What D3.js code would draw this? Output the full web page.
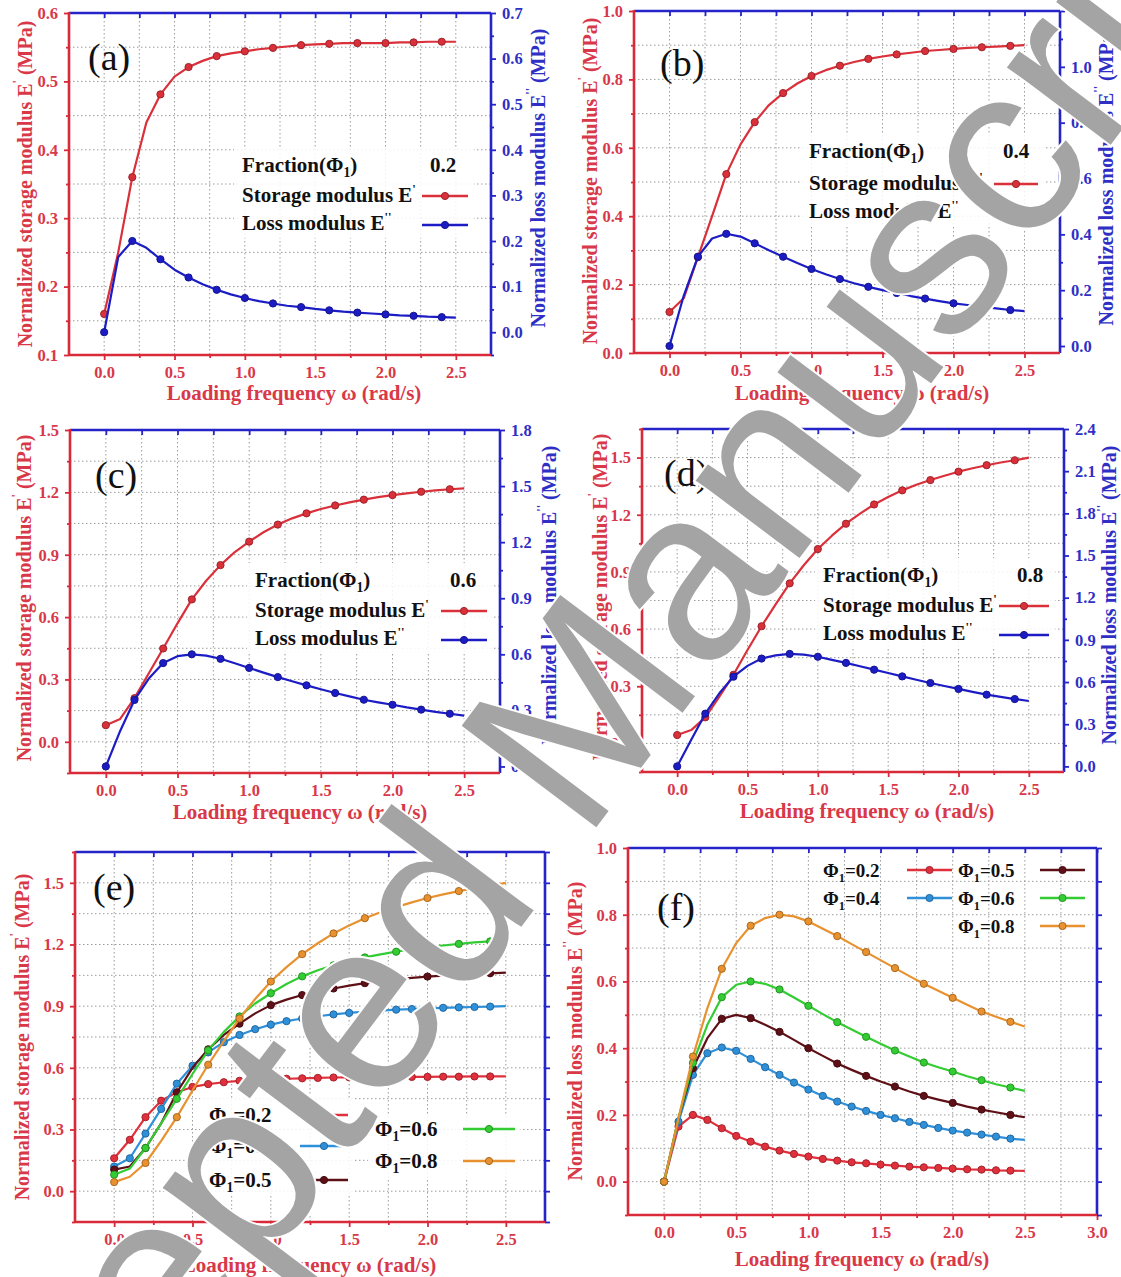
<!DOCTYPE html>
<html><head><meta charset="utf-8">
<script src="https://cdn.jsdelivr.net/npm/d3@7"></script>
<style>body{margin:0;background:#fff} svg{display:block}</style>
</head><body>
<svg id="chart" width="1121" height="1277"></svg>
<script>
// ---------- data ----------
const omega = [0.0,0.1,0.2,0.3,0.4,0.5,0.6,0.7,0.8,0.9,1.0,1.1,1.2,1.3,1.4,1.5,1.6,1.7,1.8,1.9,2.0,2.1,2.2,2.3,2.4,2.5];
const storage02 = [0.16,0.25,0.36,0.44,0.481,0.507,0.521,0.53,0.537,0.541,0.544,0.547,0.549,0.551,0.553,0.554,0.555,0.556,0.556,0.556,0.556,0.557,0.557,0.558,0.558,0.558];
const storage04 = [0.12,0.16,0.28,0.40,0.523,0.61,0.675,0.725,0.76,0.788,0.81,0.827,0.84,0.851,0.86,0.867,0.873,0.878,0.883,0.886,0.889,0.892,0.894,0.896,0.898,0.9];
const storage05 = [0.105,0.12,0.21,0.33,0.48,0.6,0.69,0.76,0.815,0.865,0.905,0.932,0.954,0.972,0.986,1.0,1.012,1.022,1.03,1.038,1.044,1.049,1.053,1.057,1.06,1.063];
const storage06 = [0.08,0.11,0.21,0.33,0.449,0.57,0.685,0.775,0.85,0.913,0.963,1.008,1.045,1.075,1.099,1.12,1.137,1.152,1.165,1.177,1.187,1.195,1.203,1.21,1.215,1.219];
const storage08 = [0.044,0.07,0.137,0.245,0.36,0.49,0.615,0.73,0.84,0.935,1.02,1.09,1.153,1.206,1.254,1.293,1.328,1.357,1.382,1.405,1.426,1.444,1.46,1.474,1.486,1.5];
const loss02 = [0,0.165,0.2,0.185,0.16,0.137,0.12,0.105,0.093,0.083,0.075,0.068,0.063,0.058,0.055,0.051,0.048,0.045,0.043,0.041,0.039,0.037,0.036,0.034,0.033,0.032];
const loss04 = [0,0.18,0.32,0.385,0.402,0.392,0.368,0.343,0.32,0.297,0.276,0.257,0.24,0.225,0.212,0.2,0.19,0.179,0.17,0.161,0.153,0.147,0.141,0.135,0.129,0.125];
const loss05 = [0,0.19,0.34,0.43,0.488,0.5,0.49,0.47,0.449,0.425,0.4,0.377,0.354,0.335,0.317,0.3,0.285,0.27,0.257,0.246,0.236,0.225,0.216,0.208,0.2,0.193];
const loss06 = [0,0.19,0.356,0.47,0.553,0.59,0.6,0.593,0.576,0.552,0.527,0.502,0.478,0.456,0.434,0.413,0.393,0.375,0.357,0.343,0.33,0.316,0.304,0.292,0.282,0.272];
const loss08 = [0,0.19,0.375,0.52,0.638,0.715,0.767,0.79,0.8,0.795,0.78,0.758,0.736,0.712,0.688,0.664,0.64,0.616,0.593,0.572,0.551,0.53,0.51,0.494,0.479,0.465];
const fractions = ["0.2","0.4","0.5","0.6","0.8"];
const panelLetters = ["(a)","(b)","(c)","(d)","(e)","(f)"];
const xTicks = [0.0,0.5,1.0,1.5,2.0,2.5];
const xTicksF = [0.0,0.5,1.0,1.5,2.0,2.5,3.0];
const ticksA_L = [0.1,0.2,0.3,0.4,0.5,0.6], ticksA_R = [0.0,0.1,0.2,0.3,0.4,0.5,0.6,0.7];
const ticksB_L = [0.0,0.2,0.4,0.6,0.8,1.0], ticksB_R = [0.0,0.2,0.4,0.6,0.8,1.0,1.2];
const ticksC_L = [0.0,0.3,0.6,0.9,1.2,1.5], ticksC_R = [0.0,0.3,0.6,0.9,1.2,1.5,1.8];
const ticksD_L = [0.0,0.3,0.6,0.9,1.2,1.5], ticksD_R = [0.0,0.3,0.6,0.9,1.2,1.5,1.8,2.1,2.4];
const ticksE_L = [0.0,0.3,0.6,0.9,1.2,1.5];
const ticksF_L = [0.0,0.2,0.4,0.6,0.8,1.0];
const xTitle = "Loading frequency \u03c9 (rad/s)";
const storageTitle = "Normalized storage modulus E";
const lossTitle = "Normalized loss modulus E";
const watermark = "Accepted Manuscript";

// ---------- style ----------
const SERIF = "'Liberation Serif','Times New Roman',serif";
const RED = "#d92a3a", RED_T = "#d83848";
const BLUE = "#2424c8", BLUE_T = "#2f2fc6";
const C_ST = "#d9303a", C_LO = "#1c1cc4";
const PHI_COL = {"0.2":"#e0303c","0.4":"#2f90da","0.5":"#5e1016","0.6":"#33cc33","0.8":"#e8912e"};
const svg = d3.select("#chart");

function steps(dom, step){
  const lo = Math.ceil(dom[0]/step - 1e-6), hi = Math.floor(dom[1]/step + 1e-6);
  return d3.range(lo, hi+1).map(k => +(k*step).toFixed(4));
}
function addText(g, x, y, parts, opt){
  const t = g.append("text").attr("x", x).attr("y", y)
    .attr("font-family", SERIF).attr("font-weight", opt.weight||"bold")
    .attr("font-size", opt.size).attr("fill", opt.color||"#111")
    .attr("text-anchor", opt.anchor||"start");
  if (opt.rotate) t.attr("transform", `rotate(${opt.rotate},${x},${y})`);
  if (opt.baseline) t.attr("dominant-baseline", opt.baseline);
  let shift = 0;
  parts.forEach(p => {
    const s = t.append("tspan").text(p.t);
    let target = 0;
    if (p.sup) { s.attr("font-size", opt.size*0.6); target = -opt.size*0.42; }
    if (p.sub) { s.attr("font-size", opt.size*0.65); target = opt.size*0.25; }
    if (target !== shift) { s.attr("dy", target - shift); shift = target; }
  });
  return t;
}
function phiParts(v){ return [{t:"\u03a6"},{t:"1",sub:true},{t:"="+v}]; }

function drawPanel(p){
  const g = svg.append("g");
  const x = d3.scaleLinear().domain(p.xDom).range([p.x0, p.x1]);
  const yl = d3.scaleLinear().domain(p.lDom).range([p.y1, p.y0]);
  const yr = p.rDom ? d3.scaleLinear().domain(p.rDom).range([p.y1, p.y0]) : null;
  // grid
  const gx = steps([0, p.gridXMax], 0.25);
  g.append("g").selectAll("line").data(gx).join("line")
    .attr("x1", d=>x(d)).attr("x2", d=>x(d)).attr("y1", p.y0).attr("y2", p.y1)
    .attr("stroke", "#9c9c9c").attr("stroke-width", 1).attr("stroke-dasharray", "1.5,2.5");
  const gy = steps(p.lDom, p.lMinor).filter(v => yl(v) > p.y0+2 && yl(v) < p.y1-2);
  g.append("g").selectAll("line").data(gy).join("line")
    .attr("y1", d=>yl(d)).attr("y2", d=>yl(d)).attr("x1", p.x0).attr("x2", p.x1)
    .attr("stroke", "#9c9c9c").attr("stroke-width", 1).attr("stroke-dasharray", "1.5,2.5");
  if (p.legendBg) p.legendBg.forEach(b => g.append("rect").attr("x", b[0]).attr("y", b[1]).attr("width", b[2]).attr("height", b[3]).attr("fill", "#fff").attr("opacity", 0.85));
  // series
  p.series.forEach(s => {
    const ys = s.axis === "right" ? yr : yl;
    const line = d3.line().x((d,i)=>x(omega[i])).y(d=>ys(d));
    g.append("path").datum(s.values).attr("d", line).attr("fill", "none")
      .attr("stroke", s.color).attr("stroke-width", 2.2).attr("stroke-linejoin", "round");
    const pts = s.values.map((v,i)=>({v,i})).filter(d => d.i % s.step === 0 && omega[d.i] <= 2.4 + 1e-9);
    g.append("g").selectAll("circle").data(pts).join("circle")
      .attr("cx", d=>x(omega[d.i])).attr("cy", d=>ys(d.v)).attr("r", 3.6)
      .attr("fill", s.color).attr("stroke", d3.color(s.color).darker(0.9)).attr("stroke-width", 1);
  });
  // axes
  const fmt = d3.format(".1f");
  const styleAxis = (sel, col, tcol, showLabels) => {
    sel.select(".domain").remove();
    sel.selectAll("line").attr("stroke", col).attr("stroke-width", 1.8);
    sel.selectAll("text").attr("fill", tcol).attr("font-family", SERIF).attr("font-weight", "bold").attr("font-size", 16.5);
    if (!showLabels) sel.selectAll("text").remove();
  };
  const xt = p.xTickVals;
  g.append("g").attr("transform", `translate(0,${p.y1})`)
    .call(d3.axisBottom(x).tickValues(xt).tickFormat(fmt).tickSize(5).tickPadding(6))
    .call(s=>styleAxis(s, RED, RED_T, true));
  g.append("g").attr("transform", `translate(0,${p.y1})`)
    .call(d3.axisBottom(x).tickValues(steps([0, d3.max(xt)], 0.25).filter(v=>!xt.includes(v))).tickFormat("").tickSize(3))
    .call(s=>styleAxis(s, RED, RED_T, false));
  g.append("g").attr("transform", `translate(0,${p.y0})`)
    .call(d3.axisTop(x).tickValues(steps([0, d3.max(xt)], 0.25)).tickFormat("").tickSize(-5))
    .call(s=>styleAxis(s, BLUE, BLUE_T, false));
  g.append("g").attr("transform", `translate(${p.x0},0)`)
    .call(d3.axisLeft(yl).tickValues(p.lTicks).tickFormat(fmt).tickSize(5).tickPadding(6))
    .call(s=>styleAxis(s, RED, RED_T, true));
  g.append("g").attr("transform", `translate(${p.x0},0)`)
    .call(d3.axisLeft(yl).tickValues(steps(p.lDom, p.lMinor).filter(v=>!p.lTicks.some(t=>Math.abs(t-v)<1e-6))).tickFormat("").tickSize(3))
    .call(s=>styleAxis(s, RED, RED_T, false));
  if (yr) {
    g.append("g").attr("transform", `translate(${p.x1},0)`)
      .call(d3.axisRight(yr).tickValues(p.rTicks).tickFormat(fmt).tickSize(5).tickPadding(6))
      .call(s=>styleAxis(s, BLUE, BLUE_T, true));
    g.append("g").attr("transform", `translate(${p.x1},0)`)
      .call(d3.axisRight(yr).tickValues(steps(p.rDom, p.rMinor).filter(v=>!p.rTicks.some(t=>Math.abs(t-v)<1e-6))).tickFormat("").tickSize(3))
      .call(s=>styleAxis(s, BLUE, BLUE_T, false));
  } else {
    g.append("g").attr("transform", `translate(${p.x1},0)`)
      .call(d3.axisRight(yl).tickValues(steps(p.lDom, p.lMinor)).tickFormat("").tickSize(5))
      .call(s=>styleAxis(s, BLUE, BLUE_T, false));
  }
  // frame
  const fw = 2.6;
  g.append("line").attr("x1", p.x0).attr("x2", p.x1).attr("y1", p.y0).attr("y2", p.y0).attr("stroke", BLUE).attr("stroke-width", fw);
  g.append("line").attr("x1", p.x1).attr("x2", p.x1).attr("y1", p.y0).attr("y2", p.y1).attr("stroke", BLUE).attr("stroke-width", fw);
  g.append("line").attr("x1", p.x0).attr("x2", p.x1).attr("y1", p.y1).attr("y2", p.y1).attr("stroke", RED).attr("stroke-width", fw);
  g.append("line").attr("x1", p.x0).attr("x2", p.x0).attr("y1", p.y0-1).attr("y2", p.y1+1).attr("stroke", RED).attr("stroke-width", fw);
  // titles
  addText(g, p.xTitle[0], p.xTitle[1], [{t:xTitle}], {size:21, color:RED_T, anchor:"middle"});
  addText(g, p.lTitle[0], p.lTitle[1], [{t:p.lTitleText},{t:p.lPrime,sup:true},{t:" (MPa)"}], {size:20, color:RED_T, anchor:"middle", rotate:-90, baseline:"central"});
  if (p.rTitle) addText(g, p.rTitle[0], p.rTitle[1], [{t:lossTitle},{t:"''",sup:true},{t:" (MPa)"}], {size:20, color:BLUE_T, anchor:"middle", rotate:-90, baseline:"central"});
  addText(g, p.label[0], p.label[1], [{t:p.letter}], {size:38, weight:"normal", color:"#111"});
  p.legend(g);
}

function legendSample(g, x0, x1, y, col){
  g.append("line").attr("x1", x0).attr("x2", x1).attr("y1", y).attr("y2", y).attr("stroke", col).attr("stroke-width", 2.4);
  g.append("circle").attr("cx", (x0+x1)/2).attr("cy", y).attr("r", 3.6).attr("fill", col).attr("stroke", d3.color(col).darker(0.9));
}
function fracLegend(fx, vx, rows, sx, frac){
  return g => {
    addText(g, fx, rows[0], [{t:"Fraction(\u03a6"},{t:"1",sub:true},{t:")"}], {size:21});
    addText(g, vx, rows[0], [{t:frac}], {size:21});
    addText(g, fx, rows[1], [{t:"Storage modulus E"},{t:"'",sup:true}], {size:21});
    addText(g, fx, rows[2], [{t:"Loss modulus E"},{t:"''",sup:true}], {size:21});
    legendSample(g, sx[0], sx[1], rows[1]-6, C_ST);
    legendSample(g, sx[0], sx[1], rows[2]-5, C_LO);
  };
}

const pairSeries = (st, lo) => [
  {values: st, color: C_ST, step: 2, axis: "left"},
  {values: lo, color: C_LO, step: 2, axis: "right"}
];

const panels = [
  {letter:panelLetters[0], x0:69, x1:491, y0:13, y1:355, xDom:[-0.25,2.75], gridXMax:2.5, xTickVals:xTicks,
   lDom:[0.1,0.6], lTicks:ticksA_L, lMinor:0.05, rDom:[-0.05,0.7], rTicks:ticksA_R, rMinor:0.05,
   series: pairSeries(storage02, loss02), xTitle:[294,400], lTitle:[25,184], rTitle:[538,178], label:[88,70],
   lTitleText:storageTitle, lPrime:"'", legendBg:[[234,148,240,90]],
   legend: fracLegend(242, 430, [172,202,230], [422,468], fractions[0])},
  {letter:panelLetters[1], x0:634, x1:1060, y0:11, y1:353, xDom:[-0.25,2.75], gridXMax:2.5, xTickVals:xTicks,
   lDom:[0,1], lTicks:ticksB_L, lMinor:0.1, rDom:[-0.025,1.2], rTicks:ticksB_R, rMinor:0.1,
   series: pairSeries(storage04, loss04), xTitle:[862,400], lTitle:[590,181], rTitle:[1106,176], label:[660,76],
   lTitleText:storageTitle, lPrime:"'", legendBg:[[801,134,243,92]],
   legend: fracLegend(809, 1003, [158,190,218], [994,1038], fractions[1])},
  {letter:panelLetters[2], x0:70, x1:500, y0:430, y1:773, xDom:[-0.25,2.75], gridXMax:2.5, xTickVals:xTicks,
   lDom:[-0.15,1.5], lTicks:ticksC_L, lMinor:0.15, rDom:[-0.035,1.8], rTicks:ticksC_R, rMinor:0.15,
   series: pairSeries(storage06, loss06), xTitle:[300,819], lTitle:[24,598], rTitle:[549,595], label:[95,488],
   lTitleText:storageTitle, lPrime:"'", legendBg:[[247,563,246,90]],
   legend: fracLegend(255, 450, [587,617,645], [441,487], fractions[3])},
  {letter:panelLetters[3], x0:642, x1:1064, y0:429, y1:772, xDom:[-0.25,2.75], gridXMax:2.5, xTickVals:xTicks,
   lDom:[-0.15,1.65], lTicks:ticksD_L, lMinor:0.15, rDom:[-0.04,2.4], rTicks:ticksD_R, rMinor:0.15,
   series: pairSeries(storage08, loss08), xTitle:[867,818], lTitle:[600,597], rTitle:[1109,595], label:[664,486],
   lTitleText:storageTitle, lPrime:"'", legendBg:[[815,558,240,90]],
   legend: fracLegend(823, 1017, [582,612,640], [999,1049], fractions[4])},
  {letter:panelLetters[4], x0:75, x1:545, y0:852, y1:1222, xDom:[-0.25,2.75], gridXMax:2.5, xTickVals:xTicks,
   lDom:[-0.15,1.65], lTicks:ticksE_L, lMinor:0.15,
   series: [
     {values: storage02, color: PHI_COL["0.2"], step: 1},
     {values: storage04, color: PHI_COL["0.4"], step: 1},
     {values: storage05, color: PHI_COL["0.5"], step: 2},
     {values: storage06, color: PHI_COL["0.6"], step: 2},
     {values: storage08, color: PHI_COL["0.8"], step: 2}],
   xTitle:[309,1272], lTitle:[22,1037], rTitle:null, label:[93,900],
   lTitleText:storageTitle, lPrime:"'", legendBg:[[200,1098,155,98],[368,1114,152,64]],
   legend: g => {
     [[fractions[0],1122],[fractions[1],1153],[fractions[2],1187]].forEach(([f,y]) => {
       addText(g, 209, y, phiParts(f), {size:21});
       legendSample(g, 300, 348, y-7, PHI_COL[f]);
     });
     [[fractions[3],1136],[fractions[4],1168]].forEach(([f,y]) => {
       addText(g, 375, y, phiParts(f), {size:21});
       legendSample(g, 463, 515, y-7, PHI_COL[f]);
     });
   }},
  {letter:panelLetters[5], x0:628, x1:1097, y0:848, y1:1215, xDom:[-0.25,3.0], gridXMax:2.75, xTickVals:xTicksF,
   lDom:[-0.1,1.0], lTicks:ticksF_L, lMinor:0.1,
   series: [
     {values: loss02, color: PHI_COL["0.2"], step: 1},
     {values: loss04, color: PHI_COL["0.4"], step: 1},
     {values: loss05, color: PHI_COL["0.5"], step: 2},
     {values: loss06, color: PHI_COL["0.6"], step: 2},
     {values: loss08, color: PHI_COL["0.8"], step: 2}],
   xTitle:[862,1266], lTitle:[575,1031], rTitle:null, label:[657,920],
   lTitleText:lossTitle, lPrime:"''", legendBg:null,
   legend: g => {
     [[fractions[0],823,907,877],[fractions[2],958,1040,877],[fractions[1],823,907,905],[fractions[3],958,1040,905],[fractions[4],958,1040,933]]
       .forEach(([f,tx,sx,y]) => {
         addText(g, tx, y, phiParts(f), {size:19});
         legendSample(g, sx, sx+45, y-7, PHI_COL[f]);
       });
   }}
];
panels.forEach(drawPanel);

// watermark overlay
svg.append("text").attr("x", 617).attr("y", 800)
  .attr("transform", "rotate(-53,617,800)")
  .attr("text-anchor", "middle")
  .attr("font-family", "'Liberation Sans',Arial,sans-serif").attr("font-weight", "normal")
  .attr("font-size", 245).attr("fill", "#a4a4a4")
  .attr("stroke", "#fff").attr("stroke-width", 4).attr("paint-order", "stroke")
  .text(watermark);
</script>
</body></html>
